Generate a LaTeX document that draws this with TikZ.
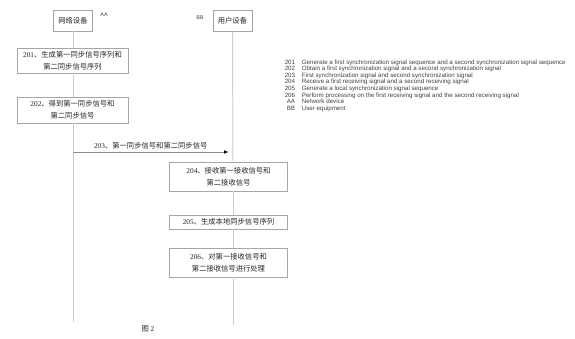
\documentclass[tikz,border=0pt]{standalone}
\usepackage{fontspec}
\setmainfont{Liberation Serif}
\newfontfamily\cjk{Noto Sans CJK SC}
\newfontfamily\legendfont{Liberation Sans}
\usetikzlibrary{arrows.meta, positioning}

\newcommand\stepno[1]{{\rmfamily #1}}

\begin{document}
\begin{tikzpicture}[
    x=0.025cm, y=-0.025cm,
    device/.style={rectangle, draw=black!35, fill=white, minimum width=0.98cm, minimum height=0.53cm, inner sep=1pt, text=black!85, font=\fontsize{5.2}{6.5}\selectfont\cjk},
    stepbox/.style={rectangle, draw=black!35, fill=white, minimum width=2.95cm, inner sep=1pt, align=center, text=black!85, font=\fontsize{5.2}{8.4}\selectfont\cjk},
    tag/.style={inner sep=0pt, text=black!75, font=\fontsize{3.8}{4}\selectfont\legendfont},
    lifeline/.style={draw=black!20, line width=0.7pt},
    arrow/.style={draw=black!45, line width=0.5pt, -{Latex[length=3.2pt,width=2.6pt,black]}}
]
\useasboundingbox (0,0) rectangle (575,339);

% Nodes
\node[device] (net) at (73,20.5) {网络设备};
\node[device] (user) at (232.5,20.5) {用户设备};
\node[tag] (aa) at (104,15) {AA};
\node[tag] (bb) at (200,17.5) {BB};

\node[stepbox, minimum width=2.775cm, minimum height=0.63cm] (b201) at (72.5,60.5) {\stepno{201}、生成第一同步信号序列和\\第二同步信号序列};
\node[stepbox, minimum width=2.775cm, minimum height=0.65cm] (b202) at (72.5,110) {\stepno{202}、得到第一同步信号和\\第二同步信号};

\node[stepbox, minimum height=0.725cm] (b204) at (228.5,176.5) {\stepno{204}、接收第一接收信号和\\第二接收信号};
\node[stepbox, minimum height=0.35cm] (b205) at (228.5,222) {\stepno{205}、生成本地同步信号序列};
\node[stepbox, minimum height=0.725cm] (b206) at (228.5,262.5) {\stepno{206}、对第一接收信号和\\第二接收信号进行处理};

\coordinate (netend) at (73,322);
\coordinate (userend) at (233,325);
\coordinate (y203) at (0,152);
\coordinate (e203) at (228.5,152);

\node[text=black!85, font=\fontsize{5.2}{6}\selectfont\cjk] (fig) at (148,328.5) {图 \stepno{2}};

% key
\node[anchor=north west, inner sep=0pt, text=black!75, font=\fontsize{4.4}{4.65}\selectfont\legendfont] (key) at (284.5,59.5) {%
\begin{tabular}{@{}r@{\hspace{0.17cm}}l@{}}
201 & Generate a first synchronization signal sequence and a second synchronization signal sequence\\
202 & Obtain a first synchronization signal and a second synchronization signal\\
203 & First synchronization signal and second synchronization signal\\
204 & Receive a first receiving signal and a second receiving signal\\
205 & Generate a local synchronization signal sequence\\
206 & Perform processing on the first receiving signal and the second receiving signal\\
AA & Network device\\
BB & User equipment
\end{tabular}};

% Lifelines
\draw[lifeline] (net.south) -- (net.south |- b201.north);
\draw[lifeline] (net.south |- b201.south) -- (net.south |- b202.north);
\draw[lifeline] (net.south |- b202.south) -- (netend);

\draw[lifeline] (user.south) -- (userend |- b204.north);
\draw[lifeline] (userend |- b204.south) -- (userend |- b205.north);
\draw[lifeline] (userend |- b205.south) -- (userend |- b206.north);
\draw[lifeline] (userend |- b206.south) -- (userend);

% Arrows
\draw[arrow] (net.south |- y203) -- node[above=1.5pt, inner sep=0pt, text=black!85, font=\fontsize{5.2}{6}\selectfont\cjk] (l203) {\stepno{203}、第一同步信号和第二同步信号} (e203);

\end{tikzpicture}
\end{document}
